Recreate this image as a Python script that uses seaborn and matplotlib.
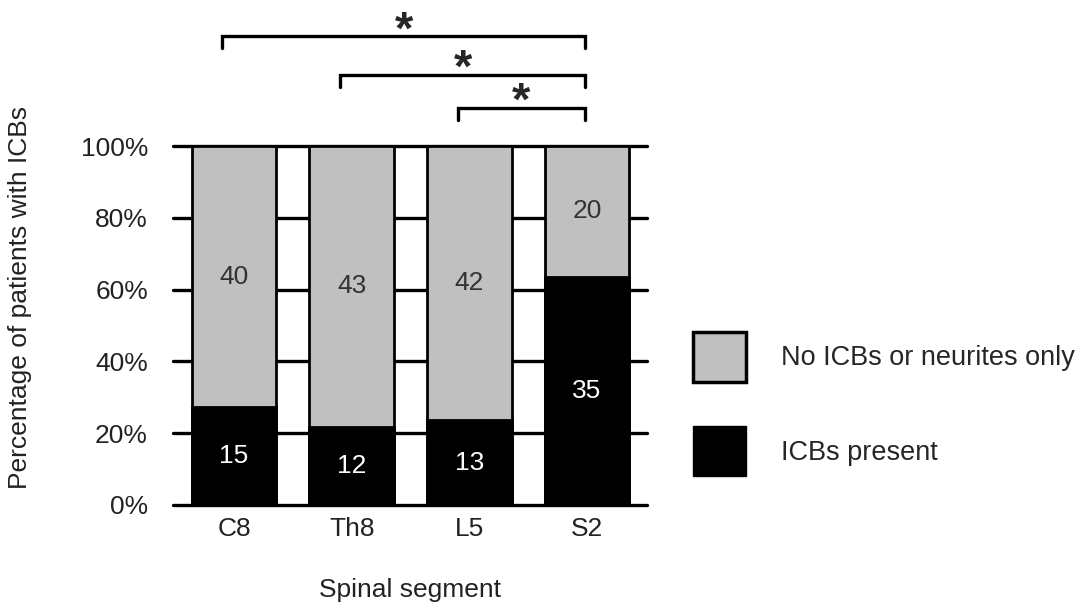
import pandas as pd
import numpy as np
import matplotlib
matplotlib.use('Agg')
import matplotlib.pyplot as plt
import seaborn as sns
from matplotlib.patches import Patch

# Data (patient counts per spinal segment)
segments = ['C8', 'Th8', 'L5', 'S2']
icb_present = [15, 12, 13, 35]
no_icb = [40, 43, 42, 20]
# significance brackets: (from segment, to segment)
comparisons = [('C8', 'S2'), ('Th8', 'S2'), ('L5', 'S2')]

df = pd.DataFrame({'Segment': segments, 'ICB': icb_present, 'NoICB': no_icb})
df['Total'] = df['ICB'] + df['NoICB']
df['ICB_pct'] = df['ICB'] / df['Total'] * 100
df['Full'] = 100.0

sns.set_style('white')
plt.rcParams['font.family'] = ['Liberation Sans', 'DejaVu Sans']

W, H = 1091, 605
fig = plt.figure(figsize=(W / 100, H / 100), dpi=100)
ax = fig.add_axes([173 / W, 1 - 505 / H, (647 - 173) / W, (505 - 146) / H])

gray = '#c0c0c0'
txt = '#222222'
fs = 19

# horizontal lines behind the bars
for yv in [0, 20, 40, 60, 80, 100]:
    ax.axhline(yv, color='black', lw=2.4, zorder=0, clip_on=False)

sns.barplot(data=df, x='Segment', y='Full', color=gray, width=0.72,
            edgecolor='black', linewidth=2, saturation=1, ax=ax, zorder=2)
sns.barplot(data=df, x='Segment', y='ICB_pct', color='black', width=0.72,
            edgecolor='black', linewidth=2, saturation=1, ax=ax, zorder=3)

for i, row in df.iterrows():
    ax.text(i, row['ICB_pct'] / 2, str(row['ICB']), ha='center', va='center',
            color='white', fontsize=fs, zorder=5)
    ax.text(i, (row['ICB_pct'] + 100) / 2, str(row['NoICB']), ha='center', va='center',
            color='#333333', fontsize=fs, zorder=5)

ax.set_xlim(-0.518, 3.509)
ax.set_ylim(0, 100)
ax.set_yticks([0, 20, 40, 60, 80, 100])
ax.set_yticklabels([f'{v}%' for v in range(0, 101, 20)], fontsize=fs, color=txt)
ax.tick_params(axis='y', length=0, pad=18, left=False)
ax.tick_params(axis='x', length=0, labelsize=fs, labelcolor=txt, pad=9)
for s in ax.spines.values():
    s.set_visible(False)
ax.set_xlabel('Spinal segment', fontsize=fs, color=txt, labelpad=26)
ax.set_ylabel('Percentage of patients with ICBs', fontsize=fs, color=txt)
ax.yaxis.set_label_coords(-0.297, 0.577)

# significance brackets
levels = [130.6, 119.8, 110.6]
for (a, b), yb in zip(comparisons, levels):
    x1 = segments.index(a) - 0.1
    x2 = segments.index(b) - 0.015
    ax.plot([x1, x1, x2, x2], [yb - 3.4, yb, yb, yb - 3.4], color='black', lw=2.4,
            clip_on=False, solid_joinstyle='miter')
    ax.text((x1 + x2) / 2, yb - 2.0, '*', ha='center', va='baseline', fontsize=34,
            fontweight='bold', clip_on=False)

handles = [Patch(facecolor=gray, edgecolor='black', linewidth=2.5, label='No ICBs or neurites only'),
           Patch(facecolor='black', edgecolor='black', label='ICBs present')]
fig.legend(handles=handles, loc='upper left', bbox_to_anchor=(693 / W, 1 - 332 / H),
           frameon=False, fontsize=19.5, handlelength=1.95, handleheight=2.45,
           labelspacing=1.65, handletextpad=1.3, borderpad=0, borderaxespad=0)

fig.savefig('out.png', dpi=100)
